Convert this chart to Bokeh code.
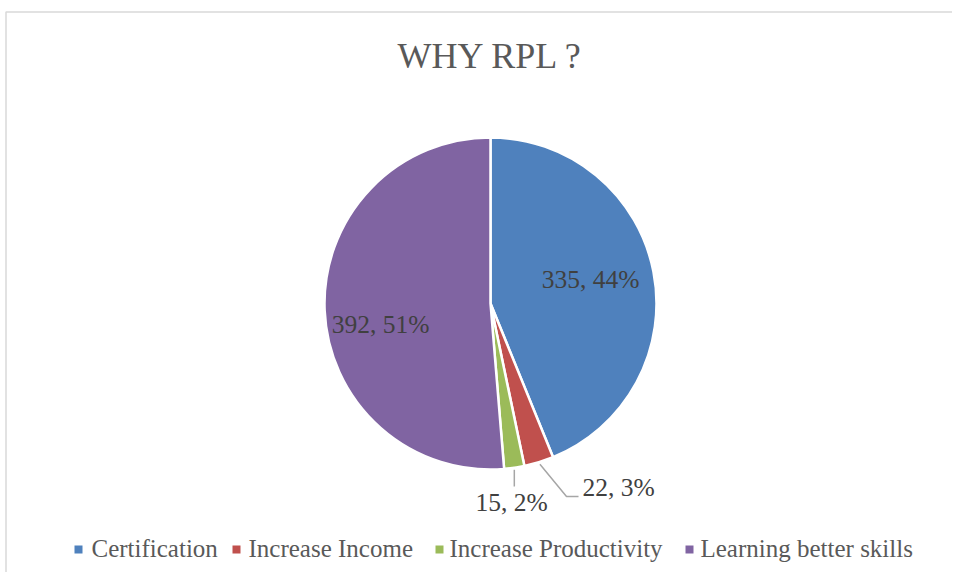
import math
from bokeh.plotting import figure
from bokeh.models import Range1d
from bokeh.core.properties import value
from bokeh.embed import file_html
from bokeh.resources import INLINE

# ---- data ----
categories = ["Certification", "Increase Income", "Increase Productivity", "Learning better skills"]
counts = [335, 22, 15, 392]
colors = ["#4F81BD", "#C0504D", "#9BBB59", "#8064A2"]
title_text = "WHY RPL ?"

# ---- layout (screen pixel coordinates) ----
W, H = 952, 572
def sy(y):  # screen y -> data y
    return H - y

def ty(baseline, size):  # compensate text baseline offset
    return sy(baseline - 0.36 * size)

cx, cy, R = 490, 303, 166
FONT = value("Liberation Serif")

p = figure(width=W, height=H, output_backend="svg", toolbar_location=None,
           x_range=Range1d(0, W), y_range=Range1d(0, H),
           min_border=0, min_border_left=0, min_border_right=0,
           min_border_top=0, min_border_bottom=0)
p.axis.visible = False
p.grid.visible = False
p.outline_line_color = None
p.background_fill_color = "white"
p.border_fill_color = "white"

# chart-area border
p.line(x=[5.5, 5.5, W], y=[0, sy(11.5), sy(11.5)], line_color="#d9d9d9", line_width=1.5)

# title
p.text(x=[490], y=[ty(68, 36)], text=[title_text], text_font=FONT, text_font_size="36px",
       text_color="#595959", text_align="center", text_baseline="alphabetic")

# wedges
total = sum(counts)
starts, ends, mids = [], [], []
a = math.pi / 2
for v in counts:
    sweep = v / total * 2 * math.pi
    starts.append(a)
    ends.append(a - sweep)
    mids.append(a - sweep / 2)
    a -= sweep

p.wedge(x=[cx] * 4, y=[sy(cy)] * 4, radius=R, start_angle=starts, end_angle=ends,
        direction="clock", fill_color=colors, line_color="white", line_width=2.5)

# data labels
pcts = [round(v / total * 100) for v in counts]
labels = [f"{v}, {pc}%" for v, pc in zip(counts, pcts)]
lab_pos = [(590, 288, "center"), (582, 496, "left"), (511, 511, "center"), (380, 333, "center")]
for lab, (lx, ly, al) in zip(labels, lab_pos):
    p.text(x=[lx], y=[ty(ly, 25.5)], text=[lab], text_font=FONT, text_font_size="25.5px",
           text_color="#404040", text_align=al, text_baseline="alphabetic")

# leader lines for small slices
m1 = mids[1]
x0, y0 = cx + R * math.cos(m1), cy - R * math.sin(m1)
p.line(x=[x0 + 1, 566, 578], y=[sy(y0 + 2), sy(496), sy(496)], line_color="#a6a6a6", line_width=1.5)
m2 = mids[2]
x0, y0 = cx + R * math.cos(m2), cy - R * math.sin(m2)
p.line(x=[x0, x0], y=[sy(y0 + 2), sy(486)], line_color="#a6a6a6", line_width=1.5)

# legend
leg_sq = [78, 236, 439, 689]
leg_tx = [91, 248, 449, 700]
for c, name, sqx, tx in zip(colors, categories, leg_sq, leg_tx):
    p.rect(x=[sqx], y=[sy(549)], width=8, height=8, fill_color=c, line_color=None)
    p.text(x=[tx], y=[ty(557, 25)], text=[name], text_font=FONT, text_font_size="25px",
           text_color="#595959", text_align="left", text_baseline="alphabetic")

open("out.html", "w").write(file_html(p, INLINE))
